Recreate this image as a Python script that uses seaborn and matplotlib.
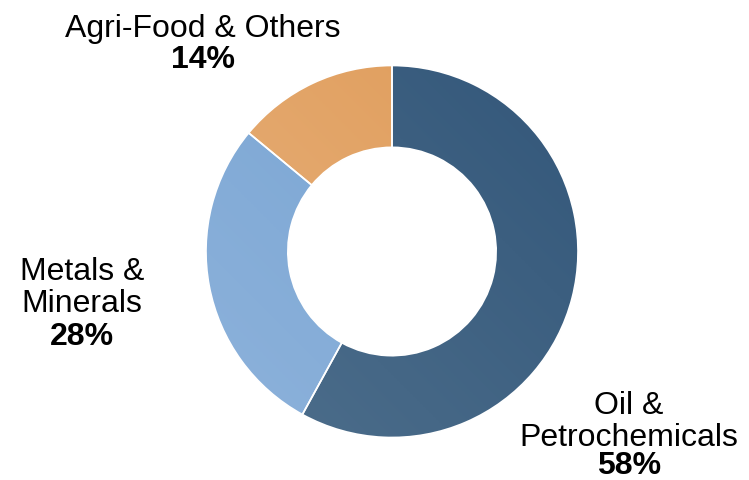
import numpy as np
import matplotlib
matplotlib.use("Agg")
import matplotlib.pyplot as plt
import seaborn as sns
from matplotlib.colors import LinearSegmentedColormap
from matplotlib.patches import Wedge

sns.set_style("white")
plt.rcParams['font.family'] = ['Liberation Sans', 'DejaVu Sans']

# Data
categories = ["Oil &\nPetrochemicals", "Metals &\nMinerals", "Agri-Food & Others"]
shares = [58, 28, 14]
pct_labels = ["58%", "28%", "14%"]

# Gradient colours (light end, dark end) per slice
grad_colors = [("#4e6f8c", "#33577a"), ("#8db2db", "#75a2d1"), ("#e8b27e", "#df9b58")]

W, H = 749, 481
fig = plt.figure(figsize=(W / 100, H / 100), dpi=100)
ax = fig.add_axes([0, 0, 1, 1])

cx, cy, R = 392, H - 252.5, 186
ring = 0.44

wedges, _ = ax.pie(shares, startangle=90, counterclock=False, radius=R,
                   center=(cx, cy), frame=True,
                   wedgeprops=dict(width=R * ring, edgecolor='white', linewidth=1.2),
                   colors=[c[1] for c in grad_colors])
ax.set_xlim(0, W)
ax.set_ylim(0, H)
ax.set_aspect('equal')
ax.axis('off')

# diagonal gradient: light at bottom-left, dark at top-right
n = 256
yy, xx = np.mgrid[0:1:n * 1j, 0:1:n * 1j]
g = (xx + yy) / 2.0
for w, (light, dark) in zip(wedges, grad_colors):
    cmap = LinearSegmentedColormap.from_list("g", [light, dark])
    im = ax.imshow(g, cmap=cmap, origin='lower', extent=[cx - R, cx + R, cy - R, cy + R],
                   interpolation='bilinear', zorder=2)
    im.set_clip_path(w)
    outline = Wedge(w.center, w.r, w.theta1, w.theta2, width=w.width,
                    facecolor='none', edgecolor='white', linewidth=1.2, zorder=3)
    ax.add_patch(outline)
ax.set_xlim(0, W)
ax.set_ylim(0, H)

fs = 23
# label layout (centre x, baselines in pixels from top)
layout = [(629, [414, 446], 474), (82, [280, 312], 345), (203, [37], 68)]
for cat, pct, (x, bases, pb) in zip(categories, pct_labels, layout):
    for line, b in zip(cat.split("\n"), bases):
        ax.text(x, H - b, line, ha='center', va='baseline', fontsize=fs, color='black')
    ax.text(x, H - pb, pct, ha='center', va='baseline', fontsize=fs, fontweight='bold', color='black')

fig.savefig("out.png", dpi=100)
